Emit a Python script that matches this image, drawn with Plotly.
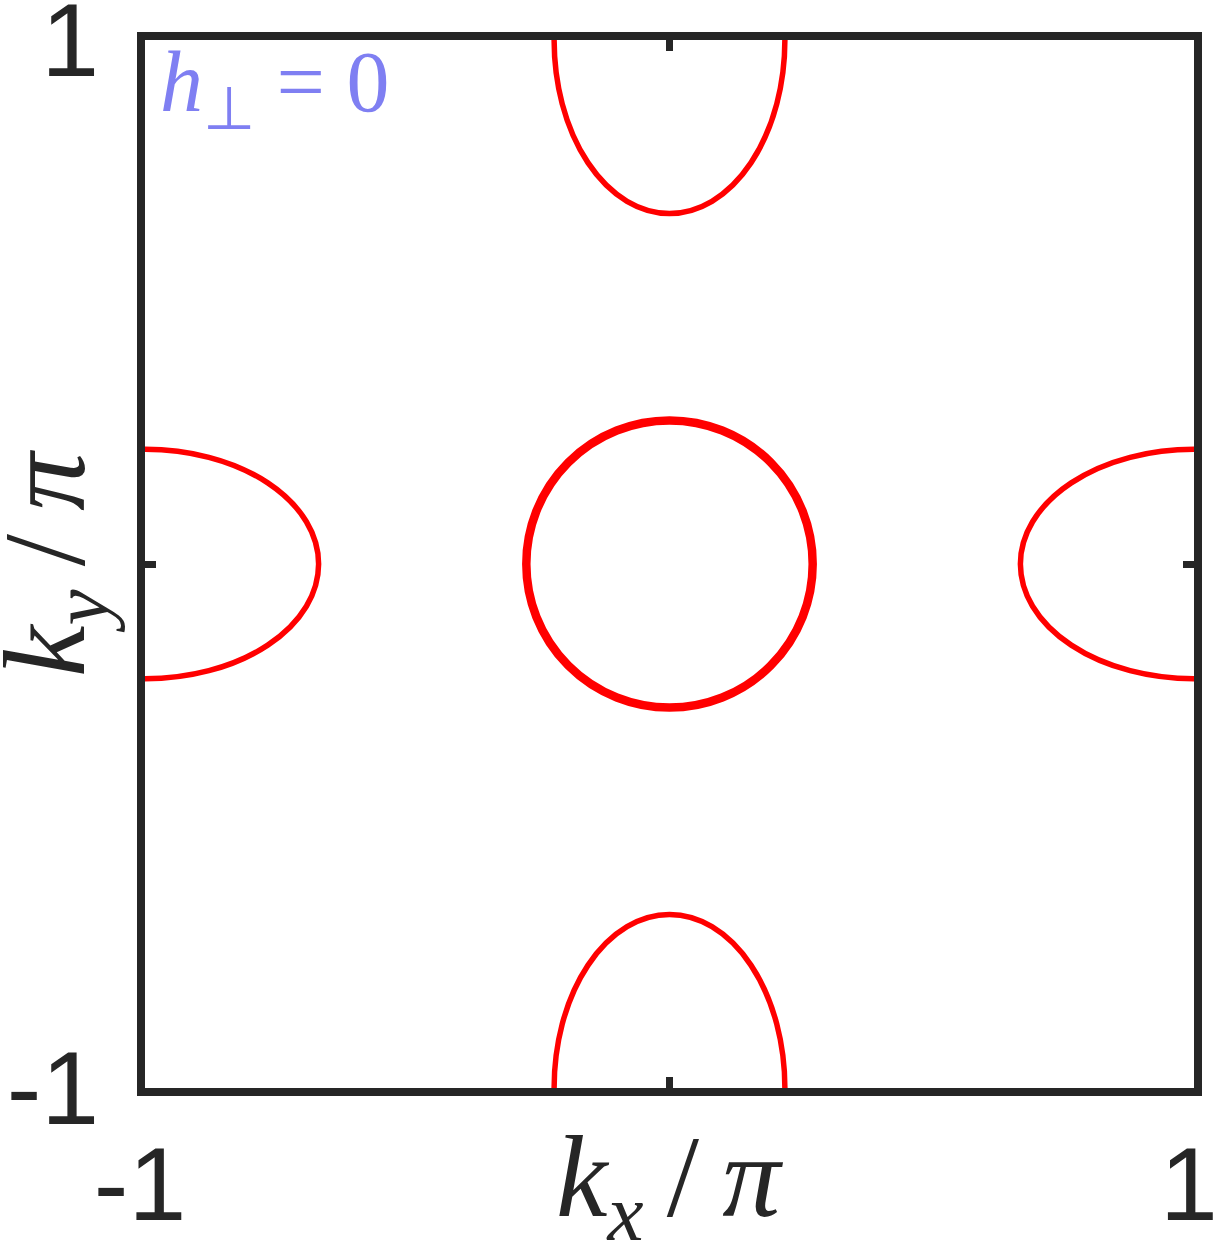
import plotly.graph_objects as go

# Fermi-surface pockets (units of pi): centres and semi-axes
pocket_kx = [0.0, 0.0, 0.0, -1.0, 1.0]
pocket_ky = [0.0, 1.0, -1.0, 0.0, 0.0]
semi_x = [0.273, 0.22, 0.22, 0.331, 0.331]
semi_y = [0.274, 0.331, 0.331, 0.219, 0.219]

tick_vals = [-1, 0, 1]
tick_text = ["-1", "", "1"]

AX = "#262626"
RED = "#ff0000"

fig = go.Figure()
fig.add_trace(go.Scatter(x=pocket_kx, y=pocket_ky, mode="markers",
                         marker=dict(opacity=0, size=1), hoverinfo="skip",
                         showlegend=False))

for i, (cx, cy, ax_, ay_) in enumerate(zip(pocket_kx, pocket_ky, semi_x, semi_y)):
    fig.add_shape(type="circle", xref="x", yref="y",
                  x0=cx - ax_, x1=cx + ax_, y0=cy - ay_, y1=cy + ay_,
                  line=dict(color=RED, width=8.5 if i == 0 else 5.5),
                  layer="below")

axis_common = dict(
    range=[-1, 1], tickvals=tick_vals, ticktext=tick_text,
    showgrid=False, zeroline=False, showline=True, linewidth=8, linecolor=AX,
    mirror="ticks", ticks="inside", ticklen=11, tickwidth=7, tickcolor=AX,
    tickfont=dict(family="Liberation Sans, Arial", size=104, color=AX),
    fixedrange=True, automargin=False, ticklabeloverflow="allow",
)

TITLE_FONT = dict(family="Liberation Serif", size=116, color=AX)

fig.update_layout(
    width=1224, height=1248,
    margin=dict(l=145, r=30, t=40, b=160, pad=0),
    plot_bgcolor="white", paper_bgcolor="white",
    showlegend=False,
    xaxis=dict(**axis_common, ticklabelstandoff=-1, ticklabelshift=-5),
    yaxis=dict(**axis_common, ticklabelstandoff=17),
    annotations=[
        dict(text="<i>h</i><sub>⊥</sub> = 0", xref="paper", yref="paper",
             x=0.012, y=1, yshift=8, xanchor="left", yanchor="top", showarrow=False,
             font=dict(family="Liberation Serif", size=86, color="#7f7ff2")),
        dict(text="<i>k</i><sub><i>x</i></sub>\u2009/\u2009<i>π</i>", xref="paper", yref="paper",
             x=0.5, y=0, yshift=-23, xanchor="center", yanchor="top", showarrow=False,
             font=TITLE_FONT),
        dict(text="<i>k</i><sub><i>y</i></sub>\u2009/\u2009<i>π</i>", xref="paper", yref="paper",
             x=(53 - 145) / 1049, y=0.5, xanchor="center", yanchor="middle",
             textangle=-90, showarrow=False, font=TITLE_FONT),
    ],
)

fig.write_html("out.html", config={"displayModeBar": False},
               post_script="document.body.style.margin='0px';")
